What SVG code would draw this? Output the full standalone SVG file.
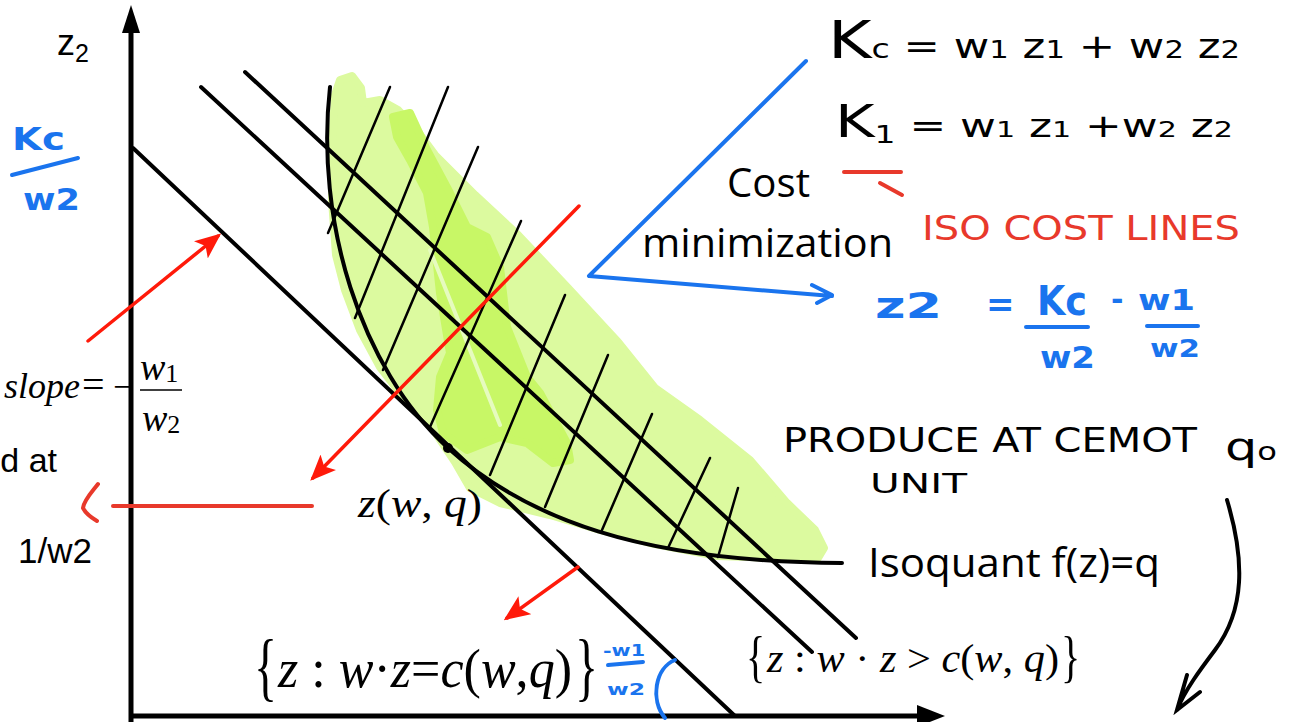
<svg xmlns="http://www.w3.org/2000/svg" width="1305" height="722" viewBox="0 0 1305 722">
<style>
.ax{stroke:#000;stroke-width:5;fill:none}
.iso{stroke:#000;stroke-width:4;fill:none;stroke-linecap:round}
.hatch{stroke:#000;stroke-width:2.5;fill:none;stroke-linecap:round}
.red{stroke:#ff1a0a;stroke-width:3.5;fill:none;stroke-linecap:round}
.hred{stroke:#e8392b;stroke-width:4;fill:none;stroke-linecap:round}
.blue{stroke:#1a74ee;stroke-width:4;fill:none;stroke-linecap:round;stroke-linejoin:round}
.sans{font-family:"Open Sans","Liberation Sans",sans-serif;fill:#000}
.arial{font-family:"Liberation Sans",Arial,sans-serif;fill:#000}
.serif{font-family:"Liberation Serif","Times New Roman",serif;fill:#000}
.it{font-style:italic}
.hand{font-family:"DejaVu Sans","Liberation Sans",sans-serif}
.hb{fill:#000}
.hbl{fill:#1a74ee;font-weight:bold}
.hr{fill:#e8392b}
</style>
<defs>
<marker id="ahr" markerUnits="userSpaceOnUse" markerWidth="26" markerHeight="22" refX="22" refY="11" orient="auto">
<path d="M0,0 L26,11 L0,22 L6,11 z" fill="#ff1a0a"/>
</marker>
</defs>
<rect width="1305" height="722" fill="#fff"/>

<g id="shading">
<path d="M340,80 L352,76 L361,88 L363,103 L380,100 L398,110 L415,128 L435,155 L475,195 L518,235 L568,288 L618,342 L655,388 L700,420 L750,460 L787,503 L815,530 L824,548 L818,558 L780,558 L717,556 L650,543 L600,530 L550,515 L500,503 L470,488 L455,462 L427,420 L400,393 L380,367 L360,330 L345,290 L336,255 L332,200 L333,130 L335,95 Z" fill="#dcfa9f" stroke="#dcfa9f" stroke-width="8" stroke-linejoin="round"/>
<path d="M393,117 L410,113 L427,150 L450,193 L467,227 L487,237 L500,267 L507,327 L527,377 L540,393 L567,443 L570,460 L553,463 L527,443 L500,437 L467,450 L443,433 L437,410 L440,377 L450,353 L440,293 L433,227 L427,193 L410,160 L397,137 Z" fill="#c8f766" stroke="#c8f766" stroke-width="8" stroke-linejoin="round"/>
<path d="M430,250 L500,425" stroke="#e6fbbf" stroke-width="4" fill="none" stroke-linecap="round"/>
</g>

<g id="axes">
<line class="ax" x1="131" y1="28" x2="131" y2="722"/>
<polygon points="131,5 122,33 140,33" fill="#000"/>
<line class="ax" x1="129" y1="716" x2="922" y2="716"/>
<polygon points="945,716 917,705 917,727" fill="#000"/>
<text class="arial" x="57" y="55" font-size="36">z<tspan font-size="25" dy="7">2</tspan></text>
</g>

<g id="isocost-lines">
<line class="iso" x1="133" y1="148" x2="735" y2="716"/>
<line class="iso" x1="201" y1="87" x2="812" y2="652"/>
<line class="iso" x1="245" y1="72" x2="856" y2="638"/>
</g>

<g id="hatching">
<line class="hatch" x1="390" y1="87" x2="328" y2="233"/>
<line class="hatch" x1="448" y1="87" x2="355" y2="318"/>
<line class="hatch" x1="478" y1="147" x2="383" y2="370"/>
<line class="hatch" x1="521" y1="221" x2="430" y2="427"/>
<line class="hatch" x1="565" y1="295" x2="490" y2="475"/>
<line class="hatch" x1="608" y1="355" x2="545" y2="507"/>
<line class="hatch" x1="652" y1="414" x2="602" y2="530"/>
<line class="hatch" x1="710" y1="458" x2="668" y2="548"/>
<line class="hatch" x1="738" y1="488" x2="718" y2="557"/>
</g>

<g id="isoquant">
<path class="iso" d="M330,87 C315,220 360,368 448,448 C525,518 640,562 842,563"/>
<circle cx="448" cy="448" r="5" fill="#000"/>
<text class="sans" x="868" y="577" font-size="40" textLength="292" lengthAdjust="spacingAndGlyphs">Isoquant f(z)=q</text>
</g>

<g id="connectors">
<line class="red" x1="88" y1="341" x2="218" y2="236" marker-end="url(#ahr)"/>
<line class="red" x1="579" y1="206" x2="313" y2="478" marker-end="url(#ahr)"/>
<line class="red" x1="578" y1="567" x2="507" y2="618" marker-end="url(#ahr)"/>
<line class="hred" x1="113" y1="506" x2="312" y2="506"/>
<path class="hred" d="M98,484 C92,492 84,500 83,508 C86,514 92,518 97,521"/>
<path class="hred" d="M844,172 L901,172 M880,183 L902,195"/>
<path class="blue" d="M806,61 L589,276 L832,296 M812,285 L832,295 L817,303"/>
<path class="iso" d="M1227,500 C1245,560 1245,610 1215,650 C1200,670 1185,690 1177,710 M1187,675 L1177,710 L1200,692" stroke-width="3"/>
<path class="blue" d="M675,660 C655,668 650,700 665,718"/>
</g>

<g id="labels">
<text class="sans" x="727" y="197" font-size="40" textLength="83" lengthAdjust="spacingAndGlyphs">Cost</text>
<text class="sans" x="642" y="257" font-size="40" textLength="251" lengthAdjust="spacingAndGlyphs">minimization</text>

<text class="serif it" x="4" y="398" font-size="36" textLength="76" lengthAdjust="spacingAndGlyphs">slope</text>
<text class="serif" x="82" y="398" font-size="40">=</text>
<text class="serif" x="113" y="398" font-size="34">−</text>
<text class="serif" x="140" y="380" font-size="38"><tspan class="it">w</tspan><tspan font-size="26" dy="2">1</tspan></text>
<line x1="140" y1="390" x2="182" y2="390" stroke="#000" stroke-width="1.5"/>
<text class="serif" x="142" y="431" font-size="38"><tspan class="it">w</tspan><tspan font-size="26" dy="2">2</tspan></text>

<text class="arial" x="57" y="472" font-size="34" text-anchor="end">d at</text>
<text class="arial" x="92" y="563" font-size="35" text-anchor="end">1/w2</text>

<text class="serif" x="358" y="517" font-size="40" textLength="124" lengthAdjust="spacingAndGlyphs"><tspan class="it">z</tspan>(<tspan class="it">w</tspan>, <tspan class="it">q</tspan>)</text>

<text class="serif" transform="translate(254,692) scale(1,1.6)" font-size="48">{</text>
<text class="serif" x="278" y="687" font-size="54" textLength="294" lengthAdjust="spacingAndGlyphs"><tspan class="it">z</tspan> : <tspan class="it">w</tspan>·<tspan class="it">z</tspan>=<tspan class="it">c</tspan>(<tspan class="it">w</tspan>,<tspan class="it">q</tspan>)</text>
<text class="serif" transform="translate(575,692) scale(1,1.6)" font-size="48">}</text>

<text class="serif" transform="translate(746,676) scale(1,1.45)" font-size="40">{</text>
<text class="serif" x="767" y="672" font-size="40" textLength="292" lengthAdjust="spacingAndGlyphs"><tspan class="it">z</tspan> : <tspan class="it">w</tspan> · <tspan class="it">z</tspan> &gt; <tspan class="it">c</tspan>(<tspan class="it">w</tspan>, <tspan class="it">q</tspan>)</text>
<text class="serif" transform="translate(1061,676) scale(1,1.45)" font-size="40">}</text>
</g>

<g id="handwriting">
<text class="hand hb" x="828" y="58" font-size="34" textLength="412" lengthAdjust="spacingAndGlyphs"><tspan font-size="52">K</tspan><tspan font-size="26">c</tspan> = w<tspan font-size="24">1</tspan> z<tspan font-size="24">1</tspan> + w<tspan font-size="24">2</tspan> z<tspan font-size="24">2</tspan></text>
<text class="hand hb" x="835" y="137" font-size="32" textLength="398" lengthAdjust="spacingAndGlyphs"><tspan font-size="44">K</tspan><tspan font-size="24" dy="6">1</tspan><tspan dy="-6"> = w</tspan><tspan font-size="22">1</tspan> z<tspan font-size="22">1</tspan>  +w<tspan font-size="22">2</tspan> z<tspan font-size="22">2</tspan></text>
<text class="hand hr" x="922" y="240" font-size="34" textLength="318" lengthAdjust="spacingAndGlyphs">ISO COST  LINES</text>

<text class="hand hbl" x="12" y="150" font-size="32" textLength="53" lengthAdjust="spacingAndGlyphs">Kc</text>
<path class="blue" d="M12,175 L78,158" stroke-width="5"/>
<text class="hand hbl" x="23" y="210" font-size="30" textLength="57" lengthAdjust="spacingAndGlyphs">w2</text>

<text class="hand hbl" x="875" y="318" font-size="36" textLength="67" lengthAdjust="spacingAndGlyphs">z2</text>
<text class="hand hbl" x="986" y="316" font-size="34">=</text>
<text class="hand hbl" x="1037" y="315" font-size="40" textLength="50" lengthAdjust="spacingAndGlyphs">Kc</text>
<path class="blue" d="M1026,327 L1088,327" stroke-width="5"/>
<text class="hand hbl" x="1040" y="368" font-size="30" textLength="55" lengthAdjust="spacingAndGlyphs">w2</text>
<text class="hand hbl" x="1111" y="310" font-size="30">-</text>
<text class="hand hbl" x="1138" y="310" font-size="28" textLength="57" lengthAdjust="spacingAndGlyphs">w1</text>
<path class="blue" d="M1147,326 L1198,326" stroke-width="5"/>
<text class="hand hbl" x="1150" y="357" font-size="24" textLength="50" lengthAdjust="spacingAndGlyphs">w2</text>

<text class="hand hbl" x="603" y="656" font-size="16" textLength="42" lengthAdjust="spacingAndGlyphs">-w1</text>
<path class="blue" d="M608,665 L643,662" stroke-width="4"/>
<text class="hand hbl" x="607" y="695" font-size="16" textLength="38" lengthAdjust="spacingAndGlyphs">w2</text>

<text class="hand hb" x="783" y="452" font-size="34" textLength="414" lengthAdjust="spacingAndGlyphs">PRODUCE  AT  CEMOT</text>
<text class="hand hb" x="1225" y="460" font-size="38" textLength="52" lengthAdjust="spacingAndGlyphs">q<tspan font-size="24">o</tspan></text>
<text class="hand hb" x="870" y="493" font-size="26" textLength="97" lengthAdjust="spacingAndGlyphs">UNIT</text>
</g>
</svg>
